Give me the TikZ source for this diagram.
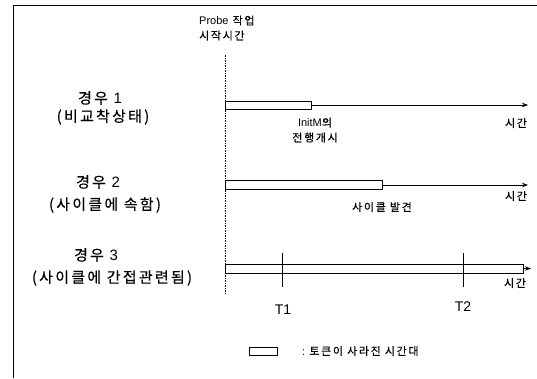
\documentclass[tikz,border=0pt]{standalone}
\usepackage{fontspec}
\setmainfont{Liberation Sans}
\newfontfamily\kr[LetterSpace=15,FakeBold=0.4]{Noto Sans CJK KR}
\usetikzlibrary{arrows.meta}
\newcommand{\lat}[1]{{\rmfamily #1}}
\begin{document}
\begin{tikzpicture}[x=1pt,y=-1pt,
  lbl/.style={font=\kr\fontsize{15}{19}\selectfont, align=center, inner sep=0pt},
  sm/.style={font=\kr\fontsize{11}{15}\selectfont, align=center, inner sep=0pt},
  tlab/.style={font=\fontsize{14}{16}\selectfont, inner sep=0pt},
  barbox/.style={draw, line width=0.8pt, fill=white, inner sep=0pt, anchor=west},
  tline/.style={line width=0.7pt, -{Stealth[length=6pt,width=4.5pt]}},
  frameline/.style={line width=0.9pt},
  guide/.style={line width=0.5pt, dash pattern=on 1.5pt off 1pt},
  tickline/.style={line width=0.8pt}
]
\useasboundingbox (0,0) rectangle (537,378);
\draw[frameline] (537,5) -- (13,5) -- (13,378);

% start-time guide
\coordinate (gtop) at (225,55);
\coordinate (gbot) at (225,295);
\draw[guide] (gtop) -- (gbot);
\node[sm, align=left, anchor=west] (probe) at (199,28) {\lat{Probe} 작업\\시작시간};

% case 1
\node[lbl] (c1) at (100,98) {경우 \lat{1}};
\node[lbl] (c1b) at (103,117) {(비교착상태)};
\node[barbox, minimum width=86pt, minimum height=8pt] (b1) at (225,105) {};
\coordinate (e1) at (528,105);
\draw[tline] (b1.east) -- (e1);
\node[sm] (time1) at (516,123) {시간};
\node[sm] (init) at (315,130) {\lat{InitM}의\\전행개시};

% case 2
\node[lbl] (c2) at (98,182) {경우 \lat{2}};
\node[lbl] (c2b) at (105,205) {(사이클에 속함)};
\node[barbox, minimum width=157pt, minimum height=9pt] (b2) at (225,185) {};
\coordinate (e2) at (528,185);
\draw[tline] (b2.east) -- (e2);
\node[sm] (time2) at (516,196) {시간};
\node[sm] (found) at (382,207) {사이클 발견};

% case 3
\node[lbl] (c3) at (96,255) {경우 \lat{3}};
\node[lbl] (c3b) at (112,278) {(사이클에 간접관련됨)};
\node[barbox, minimum width=298pt, minimum height=9pt] (b3) at (225,268.5) {};
\coordinate (e3) at (531,268.5);
\draw[tline] (b3.east) -- (e3);
\node[sm] (time3) at (515,283) {시간};
\coordinate (k1a) at (282,253); \coordinate (k1b) at (282,287);
\coordinate (k2a) at (463,253); \coordinate (k2b) at (463,287);
\draw[tickline] (k1a) -- (k1b);
\draw[tickline] (k2a) -- (k2b);
\node[tlab] (T1) at (283,310) {T1};
\node[tlab] (T2) at (463,307) {T2};

% legend
\node[barbox, minimum width=28pt, minimum height=8pt] (leg) at (249,351) {};
\node[sm, anchor=west] (legtext) at (302,351) {\lat{:}\ 토큰이 사라진 시간대};
\end{tikzpicture}
\end{document}
